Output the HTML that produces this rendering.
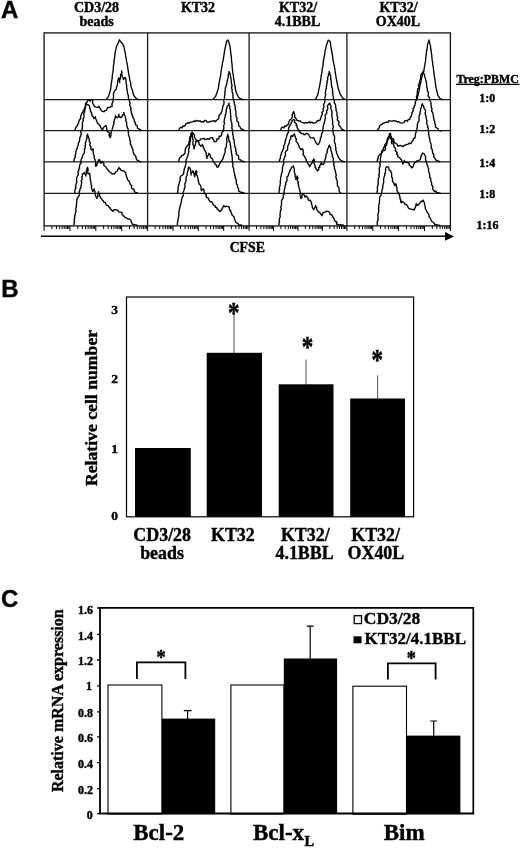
<!DOCTYPE html>
<html><head><meta charset="utf-8"><title>Figure</title>
<style>
html,body{margin:0;padding:0;background:#fff;}
svg{display:block;}
text{font-family:"Liberation Serif","DejaVu Serif",serif;font-weight:bold;fill:#000;stroke:#000;stroke-width:0.4px;}
.sans{font-family:"Liberation Sans","DejaVu Sans",sans-serif;font-weight:bold;}
.h{font-size:14px;text-anchor:middle;}
.r{font-size:12px;text-anchor:middle;}
.ln{stroke:#000;stroke-width:1;fill:none;}
.cv{stroke:#000;stroke-width:1.35;fill:none;stroke-linejoin:round;}
</style></head>
<body>
<svg width="520" height="849" viewBox="0 0 520 849">
<rect width="520" height="849" fill="#fff"/>

<!-- ===== Panel A ===== -->
<g id="panelA">
<text class="sans" x="1" y="17.5" font-size="24">A</text>
<text class="h" x="96.5" y="12">CD3/28</text>
<text class="h" x="96.5" y="26">beads</text>
<text class="h" x="198" y="12">KT32</text>
<text class="h" x="298" y="12">KT32/</text>
<text class="h" x="297.5" y="26">4.1BBL</text>
<text class="h" x="398.5" y="12">KT32/</text>
<text class="h" x="398" y="26">OX40L</text>
<!-- frame -->
<rect class="ln" style="stroke-width:1.35;stroke:#1a1a1a" x="44.1" y="32.9" width="406.3" height="193"/>
<path class="ln" style="stroke-width:1.3;stroke:#1a1a1a" d="M147.6 33V226M249.1 33V226M346.9 33V226"/>
<path class="ln" style="stroke-width:1.3;stroke:#1a1a1a" d="M44 99.6H450M44 130.7H450M44 161.9H450M44 193.3H450"/>
<!--CURVES-->
<path class="cv" d="M105.9 99.7L106.7 98.6L107.6 97.6L108.5 96.6L108.7 95.4L109.3 94.2L109.6 93.0L109.9 91.8L110.2 90.6L110.5 89.3L110.8 88.0L110.8 86.7L111.1 85.4L111.1 84.1L111.5 82.8L111.7 81.5L111.8 80.2L112.1 78.9L112.2 77.6L112.2 76.3L112.4 75.0L112.5 73.7L112.9 72.4L113.0 71.1L113.2 69.8L113.3 68.5L113.3 67.2L113.4 65.9L113.7 64.6L114.0 63.3L114.0 61.9L114.1 60.6L114.3 59.2L114.5 57.9L114.8 56.5L114.8 55.2L115.0 53.8L115.2 52.5L115.5 51.3L115.6 50.1L116.0 48.9L116.3 47.7L116.4 46.5L117.0 45.3L117.6 44.1L118.5 42.5L118.9 41.1L119.5 39.8L120.1 40.9L120.8 42.0L122.1 43.2L122.8 44.0L123.1 45.0L123.9 46.6L124.2 47.8L124.5 49.1L124.6 50.4L125.0 51.7L125.2 52.9L125.5 54.2L125.5 55.5L125.8 56.8L126.2 58.1L126.4 59.4L126.4 60.7L126.7 62.0L127.1 63.3L127.2 64.6L127.5 65.9L127.8 67.3L127.8 68.7L128.1 70.0L128.4 71.3L128.4 72.7L128.8 74.0L129.0 75.3L129.3 76.7L129.5 78.0L129.6 79.3L130.0 80.6L130.4 81.9L130.7 83.2L130.8 84.5L130.9 85.8L131.3 87.1L131.7 88.4L132.2 89.6L132.6 91.0L132.7 92.3L133.3 93.6L133.6 94.9L134.1 96.0L134.8 96.8L135.6 97.7L136.2 98.7L137.3 99.1L138.4 99.4L139.6 99.7"/>
<path class="cv" d="M74.7 130.7L75.1 129.5L75.6 128.3L76.1 127.0L77.0 126.0L77.8 125.0L78.0 123.6L78.8 122.5L78.9 121.2L79.4 120.0L80.3 119.0L80.9 117.9L80.5 116.4L81.2 115.3L81.5 114.1L82.1 113.0L83.1 112.0L83.2 110.7L84.1 109.6L84.6 108.3L85.2 107.1L85.3 105.7L85.6 104.3L85.9 102.9L87.1 101.9L87.7 100.3L89.1 100.4L90.3 101.2L90.6 99.8L92.2 99.4L92.9 100.6L92.5 102.2L92.8 103.6L93.7 104.7L94.2 105.9L95.1 106.7L96.3 107.2L97.8 107.4L99.0 106.3L99.4 107.6L100.2 108.6L100.9 109.7L101.5 110.8L102.7 111.5L104.2 111.7L104.8 110.6L106.4 110.4L106.8 109.2L107.6 107.6L109.4 107.5L110.6 106.8L112.1 106.4L112.1 105.2L111.9 103.9L112.7 102.7L112.9 101.5L113.2 100.3L113.0 99.0L113.5 97.7L113.5 96.4L113.5 95.1L113.4 93.7L113.9 92.5L114.4 91.2L115.0 90.3L115.9 89.6L116.5 88.6L116.4 87.3L117.0 86.0L117.4 84.8L117.5 83.4L117.8 82.2L117.6 80.8L118.4 79.4L118.6 77.8L119.3 78.9L119.5 80.1L119.6 81.4L119.8 82.6L119.5 81.1L119.9 79.8L120.4 78.5L120.5 77.1L120.6 75.7L120.6 74.4L121.6 73.4L121.8 72.2L121.5 70.9L122.0 72.3L121.7 73.7L121.9 75.1L122.3 76.5L123.1 77.9L123.5 79.6L124.1 78.3L125.1 77.4L125.8 78.8L126.0 80.2L126.0 81.7L126.2 83.1L126.3 84.5L126.8 85.8L126.5 87.2L127.0 88.6L126.9 89.8L127.4 91.0L127.3 92.3L127.7 93.4L127.9 94.6L128.6 96.0L128.2 97.7L129.0 99.0L129.1 100.4L129.6 101.7L130.2 103.1L129.6 104.6L130.0 105.9L130.6 107.2L131.1 108.5L130.7 110.0L131.2 111.2L131.2 112.6L132.1 113.8L131.9 115.2L133.0 116.3L132.8 117.8L133.7 118.7L134.3 119.8L134.2 121.2L135.2 122.2L135.3 123.5L135.5 124.8L137.0 125.4L137.3 126.6L137.4 128.1L138.6 128.6L139.8 129.3L140.8 130.1L142.0 130.7"/>
<path class="cv" d="M73.8 161.8L74.0 160.6L74.2 159.3L74.6 158.1L75.5 157.0L74.9 155.6L75.6 154.5L75.9 153.2L75.8 151.9L76.2 150.7L76.5 149.5L77.3 148.4L77.4 147.1L77.9 146.0L78.3 144.7L78.2 143.3L79.2 142.3L79.2 141.0L79.7 139.8L79.8 138.5L79.9 137.2L80.8 136.1L80.9 134.8L81.3 133.5L80.8 132.1L80.9 130.8L82.0 129.7L82.3 128.5L82.3 127.2L82.3 125.9L82.5 124.6L82.3 123.2L82.6 122.0L83.4 120.7L82.9 119.3L83.5 118.1L84.0 116.8L84.1 115.5L83.8 114.1L84.0 112.8L84.7 111.6L84.6 110.2L85.2 109.0L85.3 107.8L85.7 106.6L85.6 105.4L85.9 104.2L86.1 103.3L87.0 104.5L88.4 104.8L89.2 105.7L89.7 106.8L89.5 108.1L90.2 109.0L90.5 110.2L90.5 111.4L91.6 112.4L91.4 113.7L92.1 114.7L92.0 116.0L93.4 116.9L93.6 118.5L94.8 117.9L95.5 116.8L95.3 118.3L96.1 119.5L96.6 120.8L97.1 122.1L97.5 123.4L98.7 123.9L99.2 125.1L100.3 125.9L100.6 127.2L101.5 128.6L102.6 129.9L103.0 128.4L103.9 127.0L104.9 126.3L105.9 125.5L106.3 126.7L106.6 127.9L106.7 129.1L107.1 130.2L107.1 131.6L109.0 132.4L109.7 133.6L109.0 135.1L109.6 136.4L110.2 137.6L110.8 136.3L111.0 134.9L110.8 133.4L111.3 132.0L111.9 130.7L112.3 129.5L112.4 128.2L112.9 127.0L113.1 125.7L113.6 124.6L114.1 123.4L113.7 122.1L114.3 120.9L114.3 119.6L115.2 118.5L115.2 117.2L115.6 115.8L116.2 116.9L117.3 117.8L118.1 116.8L118.7 115.6L119.0 114.1L118.9 115.6L119.4 116.9L120.5 117.6L122.1 116.7L122.3 115.2L123.7 114.1L123.8 112.5L124.1 113.8L124.4 115.1L125.3 116.3L125.4 117.7L125.9 118.9L125.8 120.2L126.0 121.4L126.6 122.6L126.7 123.8L126.6 125.2L127.2 126.3L127.3 127.6L128.2 128.8L128.0 130.2L128.3 131.5L128.4 132.8L128.5 134.1L128.6 135.5L129.2 136.7L129.6 137.9L129.8 139.2L129.8 140.5L130.7 141.6L130.3 143.0L130.3 144.2L131.1 145.4L131.8 146.6L131.9 148.0L132.8 149.1L133.1 150.5L132.9 152.0L133.7 153.2L134.0 154.6L135.4 155.5L136.0 156.9L136.1 158.5L136.8 159.5L137.4 160.6L138.8 160.8L139.9 161.7L141.3 161.8"/>
<path class="cv" d="M74.7 193.3L74.9 192.0L74.9 190.6L75.0 189.3L76.0 188.0L75.4 186.6L76.1 185.3L76.0 184.0L76.8 182.7L76.7 181.4L76.5 180.0L76.6 178.6L76.9 177.3L77.5 176.0L78.2 174.8L78.2 173.5L77.9 172.0L78.8 170.9L78.7 169.4L79.6 168.3L79.3 166.8L79.7 165.6L79.9 164.2L81.1 163.3L80.7 161.8L81.0 160.5L81.3 159.3L81.9 158.1L82.5 156.9L82.5 155.5L83.4 154.4L84.2 153.2L84.4 151.9L84.6 150.6L84.4 149.2L85.2 148.0L85.3 146.8L85.0 145.5L85.7 144.4L85.2 143.1L85.7 141.9L86.2 140.7L86.5 139.4L87.1 138.1L86.7 136.6L87.1 135.3L87.6 134.1L87.7 135.4L88.4 136.5L88.6 137.8L89.2 138.9L89.2 140.2L89.4 141.6L90.4 142.8L89.7 144.4L90.0 145.7L91.1 146.9L90.7 148.4L91.4 150.0L93.0 148.8L93.3 150.0L92.9 151.3L93.4 152.5L93.4 153.8L93.7 155.0L94.4 156.2L94.2 157.5L94.4 158.7L95.2 159.9L95.3 161.2L95.6 162.5L95.8 163.8L95.4 165.2L95.8 166.3L96.9 165.4L96.9 164.1L97.8 163.1L97.5 161.6L98.5 160.7L98.9 159.5L100.1 160.4L100.0 161.9L101.0 163.3L101.4 161.8L102.5 161.3L102.9 162.6L104.0 163.7L103.7 165.3L104.9 166.2L106.0 167.0L106.6 168.3L107.5 169.4L108.4 170.5L109.3 171.7L110.6 172.5L111.9 173.8L113.2 173.7L114.7 173.7L115.6 172.2L117.0 171.5L117.5 170.5L117.6 169.3L119.0 168.6L118.9 167.2L119.1 168.5L120.4 168.9L120.8 170.1L121.8 170.3L122.7 170.8L123.9 170.9L124.7 171.7L125.7 172.8L125.9 174.1L126.3 175.4L126.5 176.9L127.3 178.1L127.4 179.7L128.7 180.6L129.3 181.9L130.0 183.2L130.3 184.7L131.7 185.6L131.5 187.4L132.0 188.6L133.7 189.0L134.2 190.1L134.3 191.7L135.5 192.3L136.8 192.6L137.9 193.3"/>
<path class="cv" d="M73.8 225.3L74.1 224.0L74.1 222.7L74.6 221.4L74.2 220.1L74.4 218.8L74.7 217.5L74.6 216.1L75.2 214.9L75.3 213.6L75.6 212.3L76.1 211.1L75.6 209.7L75.8 208.5L76.2 207.3L76.5 206.0L76.2 204.7L76.7 203.5L76.6 202.2L76.8 201.0L76.9 199.7L77.2 198.4L77.9 197.3L78.8 196.3L79.1 195.0L79.7 193.8L79.0 192.4L79.3 191.2L80.0 190.0L80.0 188.7L81.1 187.6L80.8 186.3L81.4 185.0L81.5 183.7L81.7 182.3L81.1 180.9L82.1 179.6L82.2 178.3L81.7 176.8L82.6 175.6L82.2 173.9L83.7 173.7L84.1 172.5L84.6 173.7L85.7 174.6L85.8 176.0L85.8 174.8L86.5 173.6L86.0 172.2L86.4 171.0L86.7 169.8L87.0 168.5L87.4 167.3L88.0 168.6L88.1 170.0L87.8 171.5L87.8 172.9L88.4 173.9L89.7 173.4L89.9 174.7L90.0 175.9L90.1 177.2L90.2 178.4L90.2 179.7L90.6 180.9L90.9 182.1L91.0 183.4L91.1 184.6L91.9 185.9L91.2 187.5L91.9 188.8L92.2 190.1L92.7 191.6L93.6 190.4L94.2 188.9L94.3 190.3L95.0 191.6L95.2 193.0L95.4 194.5L95.5 195.9L96.2 197.2L97.0 198.5L97.0 197.3L98.0 196.3L97.8 195.0L97.8 193.7L98.3 192.6L98.7 191.6L98.7 192.8L99.7 193.8L99.4 195.1L99.6 196.3L100.6 197.3L101.0 198.2L101.8 199.1L102.4 200.2L103.4 201.0L103.8 202.4L105.5 202.4L105.6 203.9L106.4 205.1L108.0 205.7L108.8 206.8L109.9 207.4L110.3 208.8L111.2 209.6L112.0 210.5L112.8 211.4L113.7 209.9L115.4 209.7L116.8 209.8L118.0 210.6L118.9 212.0L120.8 212.1L122.0 212.7L121.9 214.4L123.0 215.2L124.0 216.2L125.0 217.3L126.4 217.8L127.6 218.9L129.4 219.0L130.6 220.0L131.2 221.4L131.8 222.7L132.1 224.1L133.4 224.3L134.4 224.6L135.6 224.8L136.7 225.2L137.9 225.3"/>
<path class="cv" d="M212.8 99.7L213.6 98.6L214.5 97.6L215.4 96.6L215.9 95.5L216.4 94.4L216.7 93.2L217.2 92.0L217.5 90.8L218.0 89.7L218.3 88.4L218.6 87.0L218.6 85.6L218.9 84.3L219.1 82.9L219.4 81.5L219.7 80.2L219.8 78.9L220.2 77.6L220.4 76.3L220.7 75.0L220.8 73.7L221.0 72.4L221.1 71.1L221.4 69.8L221.6 68.5L221.8 67.2L222.1 65.9L222.2 64.6L222.4 63.3L222.6 62.0L223.1 60.7L223.3 59.4L223.4 58.1L223.7 56.8L223.9 55.5L224.0 54.2L224.4 52.9L224.4 51.6L224.7 50.3L224.9 49.0L225.2 47.7L225.5 46.4L225.8 45.1L226.1 43.8L226.3 42.5L226.7 41.3L227.8 40.0L228.4 40.9L228.7 42.0L229.2 43.0L229.3 44.2L229.7 45.4L230.1 46.6L230.1 47.8L230.4 49.0L230.4 50.3L230.7 51.6L230.7 52.9L230.9 54.2L231.1 55.5L231.4 56.8L231.4 58.1L231.5 59.4L231.6 60.7L231.7 62.1L231.9 63.4L232.1 64.8L232.1 66.1L232.2 67.5L232.4 68.8L232.5 70.2L232.7 71.5L232.8 72.9L233.1 74.2L233.4 75.6L233.5 76.9L233.7 78.3L233.8 79.6L234.2 81.0L234.3 82.3L234.4 83.7L234.7 84.9L235.1 86.1L235.3 87.4L235.3 88.6L235.6 89.9L235.9 91.1L236.2 92.3L236.7 93.6L237.4 94.9L238.1 96.2L238.7 97.5L240.0 98.4L241.3 99.2L242.6 99.4L243.9 99.7"/>
<path class="cv" d="M178.2 130.7L179.0 129.5L179.7 128.2L180.8 127.2L182.2 127.9L182.9 125.9L184.2 126.3L185.1 125.5L185.6 124.2L186.7 123.6L187.8 122.8L189.4 123.0L190.3 122.1L191.5 122.2L192.7 121.9L193.6 121.0L195.2 121.5L196.3 120.4L197.5 121.0L198.9 121.0L200.1 120.8L201.2 122.1L202.4 121.5L203.7 122.0L204.7 120.4L206.0 120.4L206.8 121.9L208.0 122.3L209.3 121.8L210.5 121.5L211.6 121.5L212.8 120.8L213.9 120.6L215.1 121.8L215.9 121.0L217.0 120.0L218.2 119.1L218.9 117.7L218.8 116.1L219.6 114.8L220.8 113.8L221.3 112.5L222.0 111.2L222.1 109.7L222.6 108.4L222.6 106.9L223.1 105.6L223.8 104.4L223.9 103.2L224.1 101.9L223.7 100.6L223.9 99.4L224.5 98.2L224.5 96.9L224.6 95.7L225.1 94.5L224.6 93.2L225.1 92.0L225.0 90.7L225.5 89.6L225.2 88.3L225.7 87.1L226.2 85.9L226.3 84.7L227.0 83.5L227.0 82.2L227.2 81.0L227.5 79.8L227.7 78.6L228.2 77.4L228.3 76.2L228.1 75.0L228.7 73.9L229.0 72.7L229.0 71.5L229.7 72.8L230.2 74.0L230.3 75.4L230.6 76.7L230.9 78.0L231.1 79.3L231.1 80.6L231.4 81.9L231.3 83.2L231.8 84.5L232.1 85.8L231.6 87.1L231.7 88.4L232.2 89.7L232.0 91.1L232.3 92.4L232.9 93.7L233.0 95.0L232.9 96.4L233.0 97.7L233.3 99.0L233.6 100.2L234.0 101.4L234.4 102.7L234.2 104.0L235.0 105.2L234.9 106.5L235.5 107.7L235.2 109.0L235.5 110.3L236.1 111.5L235.9 112.9L235.9 114.2L236.0 115.6L236.2 116.9L237.1 118.1L236.8 119.5L236.8 120.8L237.9 121.8L238.5 122.9L238.8 124.1L238.5 125.7L239.8 126.5L240.4 127.8L241.3 129.0L242.6 129.3L243.6 130.1L244.8 130.7"/>
<path class="cv" d="M178.2 161.8L178.9 160.5L179.2 159.1L179.8 157.7L181.0 156.9L181.6 155.3L183.3 155.2L184.2 154.0L185.1 152.9L185.2 151.6L185.1 150.3L185.3 149.0L185.9 147.8L186.8 146.8L187.0 145.8L187.9 145.4L188.4 144.5L189.1 143.3L188.9 141.8L189.8 140.7L189.5 139.2L189.7 137.9L190.1 136.6L191.2 135.8L190.8 134.4L191.1 133.3L192.2 132.2L193.1 133.0L193.7 134.1L194.5 135.0L194.4 136.4L194.4 137.6L195.3 138.6L196.1 140.0L197.1 140.8L198.6 140.9L199.8 140.3L200.8 138.8L202.3 138.8L203.9 138.3L205.1 139.5L206.4 139.3L207.6 138.7L208.9 139.4L210.1 138.2L211.4 137.7L212.7 137.6L212.9 138.8L213.6 139.8L213.9 140.9L214.4 141.8L216.0 141.6L217.0 140.3L216.8 138.8L218.7 138.9L219.0 137.8L219.1 136.2L220.9 136.2L221.6 135.1L221.6 133.6L222.1 132.3L223.2 131.3L223.3 129.8L223.8 128.5L223.8 127.1L223.6 125.7L224.2 124.5L224.6 123.1L223.9 121.7L224.3 120.4L224.4 119.0L224.8 117.7L225.5 116.5L225.0 115.1L226.0 114.0L225.8 112.7L226.4 111.5L226.0 110.2L226.6 109.0L227.0 107.8L227.0 106.4L228.1 105.4L229.0 104.4L229.0 103.0L228.8 104.3L229.1 105.4L229.9 106.6L229.5 107.9L230.2 109.0L230.4 110.3L230.3 111.7L230.5 113.1L230.6 114.4L230.7 115.8L230.9 117.1L230.7 118.5L231.0 119.9L231.1 121.2L231.7 122.5L231.9 123.9L231.8 125.2L232.2 126.5L231.6 128.0L232.4 129.2L232.1 130.6L232.7 131.9L232.6 133.3L232.9 134.6L233.2 135.9L233.5 137.2L233.1 138.6L234.1 139.7L234.1 141.1L234.3 142.4L234.3 143.7L234.7 144.9L234.5 146.2L235.3 147.4L235.7 148.6L235.8 149.8L235.7 151.1L236.5 152.2L236.1 153.8L236.7 154.9L238.3 155.7L238.7 157.0L238.5 158.6L239.3 159.5L240.7 159.9L241.3 160.9L242.5 161.2L243.6 161.5L244.8 161.8"/>
<path class="cv" d="M177.3 193.3L177.7 192.1L177.7 190.8L178.3 189.6L178.0 188.3L178.1 187.0L178.6 185.8L178.8 184.6L179.2 183.4L179.4 182.1L179.9 180.9L180.4 179.8L179.9 178.4L180.3 177.2L180.8 176.0L182.2 175.3L183.3 174.2L183.8 172.8L183.8 171.4L184.2 170.0L184.4 168.6L185.0 167.3L185.3 166.0L185.8 164.7L186.0 163.4L186.2 162.2L185.8 160.7L186.2 159.5L187.0 158.3L187.1 157.0L187.9 155.8L187.9 154.5L188.6 153.3L188.7 152.0L188.9 150.7L188.3 149.2L189.3 148.1L189.4 146.7L189.2 145.4L189.9 144.1L189.4 142.7L190.4 141.6L190.4 140.2L190.6 138.9L190.3 137.5L191.3 136.4L191.2 135.0L191.8 133.3L192.4 134.5L192.3 135.7L192.4 137.0L192.5 138.2L193.0 139.4L193.2 140.6L193.0 141.9L192.9 143.3L192.9 144.7L194.1 146.0L193.7 147.4L194.1 148.8L194.5 147.4L194.8 146.1L195.2 144.7L195.6 143.4L195.6 142.0L196.3 141.0L197.2 140.2L197.9 141.6L199.1 142.7L198.9 144.3L200.0 145.1L200.7 146.2L202.1 145.9L202.3 144.5L203.0 145.7L203.1 147.1L204.0 148.3L204.2 149.6L205.2 150.9L205.9 152.3L206.2 153.5L206.1 154.8L206.8 155.9L206.4 157.3L207.0 158.4L207.0 156.9L207.7 155.7L208.9 154.7L208.5 153.4L209.9 154.3L210.3 155.9L210.5 157.4L211.8 158.3L212.8 159.4L212.9 160.9L213.7 162.1L214.8 163.1L215.2 164.6L216.7 164.8L216.5 166.8L218.2 167.1L218.5 165.7L219.4 164.9L219.7 163.4L220.8 162.3L221.3 160.9L222.3 159.7L223.2 158.4L223.2 156.9L224.0 155.7L224.3 154.3L224.9 153.0L225.4 151.7L225.0 150.3L225.1 149.0L226.0 147.7L226.4 146.4L226.4 145.1L226.5 143.7L226.9 142.4L227.0 141.0L226.5 139.5L226.8 138.2L227.2 136.8L227.6 135.5L227.6 134.1L227.9 135.3L228.6 136.5L228.6 137.7L228.6 139.0L229.0 140.1L229.0 141.4L230.0 141.9L230.2 143.3L230.3 144.7L230.6 146.0L230.8 147.4L230.9 148.8L231.1 150.1L231.3 151.4L231.5 152.7L231.6 154.0L232.0 155.3L232.0 156.6L232.4 157.9L232.2 159.2L232.3 160.5L232.3 161.8L232.8 163.1L233.0 164.4L232.7 165.7L233.0 167.0L233.6 168.3L233.8 169.6L233.9 170.9L234.2 172.3L234.5 173.6L234.7 175.0L235.1 176.3L235.2 177.7L235.8 179.0L236.4 180.3L236.3 181.9L236.3 183.3L237.0 184.6L237.6 185.8L237.4 187.3L238.6 188.4L238.5 190.0L239.0 191.3L240.1 191.8L241.3 192.5L242.6 192.3L243.6 193.0L244.8 193.3"/>
<path class="cv" d="M177.3 225.3L177.4 224.0L177.4 222.8L178.0 221.5L177.8 220.2L178.0 219.0L178.5 217.8L178.6 216.5L178.9 215.3L178.9 214.0L178.8 212.6L179.2 211.4L179.2 210.1L179.6 208.8L179.9 207.5L180.1 206.2L180.4 205.0L181.0 203.7L181.1 202.4L181.5 201.1L181.5 199.7L181.9 198.5L182.3 197.2L183.2 196.0L183.2 194.6L183.2 193.3L183.2 192.0L183.8 190.8L184.2 189.6L184.4 188.3L185.1 187.2L184.9 185.9L184.9 184.6L184.9 183.3L185.6 182.1L186.0 181.0L186.1 179.7L185.9 178.4L186.1 177.1L186.7 176.0L187.2 174.8L187.2 173.5L187.4 172.2L187.9 171.0L188.4 169.9L188.1 168.5L188.8 167.0L189.9 168.2L190.4 169.5L190.9 170.9L190.7 172.3L191.1 173.7L191.1 175.1L191.0 173.8L191.5 172.7L192.9 172.1L192.8 170.8L193.5 171.9L193.8 173.1L194.0 174.4L194.5 175.5L194.7 176.8L194.8 175.6L195.2 174.4L195.4 173.1L195.4 171.8L196.4 170.8L196.9 172.0L196.4 173.5L196.5 174.8L197.4 176.0L197.6 177.3L197.9 178.6L198.3 179.8L198.1 181.2L198.9 182.4L198.8 183.7L200.1 184.8L200.9 186.3L201.0 187.8L201.1 189.3L201.5 190.7L202.2 189.6L203.3 188.9L204.1 190.1L204.0 191.6L204.2 192.9L205.3 193.9L206.4 194.9L206.1 196.9L207.4 197.7L208.6 198.4L208.8 199.8L209.7 200.7L210.2 201.9L211.7 201.8L212.6 202.9L213.0 204.1L213.6 205.2L215.2 205.8L215.2 207.3L216.8 207.4L217.0 208.9L218.1 209.6L218.8 210.6L220.0 211.6L221.0 210.6L221.8 209.4L222.5 208.1L223.2 206.7L223.9 205.6L225.0 206.8L226.6 206.2L227.9 206.6L229.3 207.1L229.4 208.5L229.5 209.9L230.8 210.9L231.0 212.3L231.7 213.4L231.8 214.8L232.8 215.7L234.1 216.7L234.2 218.5L234.8 219.5L235.3 220.6L235.5 221.7L236.2 222.7L237.2 223.2L238.1 223.8L238.7 224.5L239.8 225.2L241.1 224.9L242.2 225.3"/>
<path class="cv" d="M315.4 99.7L315.9 98.5L316.4 97.4L316.9 96.3L317.7 95.2L317.9 94.0L318.3 92.8L318.5 91.5L318.6 90.3L318.9 89.1L319.2 87.8L319.5 86.6L319.7 85.4L320.0 84.1L320.2 82.8L320.3 81.5L320.7 80.2L320.8 78.9L321.0 77.6L321.1 76.3L321.4 75.0L321.7 73.7L321.9 72.3L322.1 71.0L322.1 69.6L322.3 68.3L322.7 67.0L323.0 65.6L323.1 64.3L323.2 62.9L323.4 61.6L323.5 60.3L323.7 59.0L324.1 57.7L324.1 56.4L324.5 55.1L324.8 53.8L324.9 52.5L325.0 51.2L325.3 49.9L325.8 48.6L325.9 47.3L326.4 46.0L326.6 44.7L327.1 43.5L327.4 42.3L327.9 41.1L328.3 40.1L329.1 40.8L330.0 41.2L330.3 42.5L330.6 43.8L330.6 45.1L330.8 46.4L331.1 47.7L331.2 49.0L331.6 50.2L331.7 51.5L332.0 52.7L332.1 54.0L332.4 55.2L332.6 56.4L332.7 57.7L332.9 58.9L333.0 60.2L333.4 61.4L333.6 62.6L333.8 63.9L334.0 65.1L334.4 66.3L334.5 67.7L334.9 69.0L335.0 70.4L335.2 71.7L335.3 73.1L335.6 74.4L335.9 75.8L336.0 77.1L336.2 78.5L336.5 79.7L336.8 80.9L336.9 82.2L337.3 83.4L337.4 84.6L337.8 85.9L338.0 87.1L338.2 88.5L338.7 89.7L339.2 91.0L339.5 92.3L340.0 93.6L340.6 94.8L341.5 96.0L342.2 97.2L343.1 98.4L344.4 99.0L345.7 99.7"/>
<path class="cv" d="M279.9 130.7L280.8 129.6L281.3 128.1L282.4 127.0L283.9 127.9L284.7 126.0L286.1 126.4L286.8 125.1L288.3 124.5L288.7 123.0L289.0 121.7L289.5 120.5L290.3 119.5L291.4 118.7L292.2 117.5L292.4 116.1L292.1 114.6L293.0 113.5L293.0 112.4L293.6 111.6L294.2 113.0L294.6 114.5L294.8 115.9L294.5 117.3L295.8 118.0L296.3 119.0L296.4 120.0L297.7 120.4L298.9 121.1L300.2 120.8L301.2 122.0L302.3 122.5L303.4 123.0L304.6 123.0L305.8 122.6L307.1 122.9L308.2 122.5L309.4 121.7L310.3 123.0L311.8 122.0L312.9 123.1L314.0 123.0L315.2 122.7L316.4 122.3L317.1 120.9L318.4 120.5L319.8 120.3L320.4 119.4L320.6 118.2L321.1 117.1L321.3 116.0L322.1 114.9L322.3 113.7L321.8 112.4L323.1 111.5L323.3 110.3L323.0 109.0L323.7 107.8L324.0 106.5L323.6 105.1L323.9 103.8L324.7 102.6L324.7 101.3L325.1 100.1L325.0 98.7L324.9 97.3L325.4 96.1L325.8 94.8L325.2 93.3L325.6 92.0L325.6 90.7L325.8 89.4L326.6 88.1L326.1 86.7L326.8 85.4L326.7 84.1L327.3 82.8L326.9 81.4L327.6 80.2L327.7 78.9L327.5 77.5L328.2 76.3L328.6 75.1L328.4 73.8L329.3 72.8L329.1 71.5L329.8 72.7L329.5 74.2L330.6 75.3L330.7 76.7L330.6 78.0L330.9 79.2L331.1 80.4L331.2 81.7L331.4 82.9L331.3 84.2L331.7 85.4L331.5 86.7L332.3 87.9L332.5 89.1L332.4 90.4L332.9 91.7L332.3 93.0L333.1 94.2L332.8 95.5L333.4 96.7L333.3 98.0L333.7 99.2L334.1 100.4L334.5 101.6L334.2 102.9L335.2 104.0L335.5 105.2L335.8 106.5L335.6 107.8L336.2 109.0L336.0 110.4L336.7 111.7L337.0 113.1L337.0 114.5L337.0 115.9L337.8 117.2L337.3 118.7L337.4 120.1L338.8 121.2L339.0 122.6L338.6 124.2L339.2 125.6L340.2 126.5L340.9 127.6L341.3 128.9L342.5 129.4L343.6 130.2L344.8 130.7"/>
<path class="cv" d="M279.0 161.8L279.6 160.5L279.8 159.2L280.6 158.0L280.4 156.5L280.7 155.2L281.5 154.0L281.4 152.6L282.3 151.5L282.6 150.3L283.2 149.1L283.9 148.0L283.4 146.5L284.1 145.4L284.6 144.2L285.1 143.0L285.0 141.6L285.7 140.4L285.7 139.1L286.2 137.9L286.6 136.7L286.9 135.3L287.5 133.9L288.2 132.6L288.5 131.3L288.8 129.9L288.5 128.3L289.0 127.0L289.9 125.9L290.2 124.5L291.3 123.8L291.2 122.5L292.1 121.6L292.1 120.6L293.5 119.5L294.9 120.3L294.4 122.0L295.4 123.0L296.5 123.8L296.0 125.2L297.3 125.9L297.0 127.3L297.6 128.4L298.2 129.6L299.1 130.5L299.3 132.0L300.6 132.4L301.3 133.6L303.2 133.6L304.1 134.9L305.4 134.1L306.7 133.3L308.1 134.0L309.0 135.1L309.4 136.4L310.4 137.7L311.7 137.9L313.7 137.7L314.4 139.3L315.0 140.5L315.5 141.7L316.1 142.9L316.8 143.9L318.2 144.6L319.0 143.3L319.7 141.9L320.1 140.5L320.5 139.2L320.3 137.7L321.6 136.5L321.4 135.0L321.8 133.6L322.6 132.4L322.7 130.9L322.7 129.4L323.2 128.1L323.1 126.8L323.4 125.6L323.8 124.3L324.2 123.1L324.4 121.9L324.9 120.7L324.8 119.4L325.6 118.3L325.3 116.9L325.2 115.6L325.6 114.4L326.6 113.4L326.8 112.1L326.5 110.8L327.4 109.7L327.9 108.5L327.5 107.1L327.5 105.8L328.3 104.6L329.0 103.8L329.8 103.0L329.8 104.5L331.0 105.7L330.8 107.3L330.9 108.7L331.5 110.0L331.9 111.3L332.0 112.6L331.7 114.0L332.0 115.4L332.0 116.7L332.2 118.1L332.5 119.4L332.5 120.7L332.7 121.9L332.7 123.2L332.5 124.5L333.1 125.7L333.4 126.9L332.8 128.3L332.8 129.5L333.1 130.8L333.1 132.1L333.4 133.3L333.5 134.7L334.4 135.9L334.6 137.3L334.5 138.7L334.5 140.0L334.3 141.4L334.8 142.7L335.4 144.0L335.4 145.4L335.4 146.6L336.0 147.8L335.6 149.2L336.1 150.4L336.4 151.6L336.5 152.8L337.0 154.0L337.6 155.3L338.1 156.7L338.9 157.9L339.6 159.2L340.5 159.9L341.3 160.7L342.2 161.2L343.5 161.5L344.8 161.8"/>
<path class="cv" d="M279.0 193.3L279.1 192.0L279.1 190.7L279.6 189.5L279.4 188.2L279.5 186.9L280.0 185.7L280.1 184.4L280.4 183.2L280.2 181.9L280.3 180.6L280.7 179.4L280.5 178.0L281.0 176.8L281.2 175.5L281.4 174.2L281.7 172.9L282.4 171.7L282.3 170.3L282.5 169.0L282.4 167.7L282.8 166.4L283.0 165.1L283.8 163.9L283.7 162.6L283.4 161.2L283.5 159.9L284.2 158.7L284.6 157.6L284.8 156.4L285.6 155.3L285.4 154.0L285.2 152.7L285.8 151.6L286.5 150.7L287.4 149.9L287.7 148.8L287.6 147.3L287.9 145.9L288.5 144.6L289.2 143.3L289.3 141.9L289.6 140.6L290.2 139.5L290.9 138.4L290.6 137.0L291.4 135.5L292.7 136.6L293.2 135.2L294.5 134.0L294.7 135.2L295.1 136.2L295.4 137.3L295.8 138.4L296.5 139.4L295.9 140.8L296.6 141.8L297.3 142.7L298.0 143.8L298.5 145.0L299.0 146.1L299.2 147.5L300.3 148.4L300.7 149.7L302.5 148.8L303.1 149.9L303.1 151.2L303.5 152.4L303.0 153.8L303.3 155.0L304.3 156.0L304.9 157.1L305.5 158.3L306.2 159.4L306.2 160.8L307.2 161.7L307.5 163.1L308.5 164.2L309.4 165.3L309.3 166.8L310.3 165.8L310.9 164.4L311.8 163.3L312.4 162.2L312.4 161.0L313.4 160.2L313.6 159.0L314.4 160.2L314.5 161.5L313.9 163.0L314.3 164.2L315.1 165.4L315.0 166.8L315.7 167.8L316.0 168.9L316.9 169.8L317.3 171.1L318.2 170.3L318.9 169.3L318.6 167.7L319.9 167.1L319.6 165.7L320.6 164.8L320.8 163.6L321.4 162.5L321.7 164.0L323.4 164.6L324.0 163.3L324.5 162.0L324.6 160.6L325.2 159.4L325.6 158.1L325.7 156.8L326.0 155.6L326.0 154.4L326.8 153.3L327.4 152.2L326.9 150.8L327.5 149.7L327.8 148.6L328.6 147.7L328.6 146.4L329.5 145.2L329.5 146.6L330.6 147.1L330.8 148.5L330.8 149.9L331.3 151.2L331.7 152.6L331.9 154.0L332.6 155.1L332.1 156.6L333.1 157.7L333.4 158.9L333.2 160.3L333.5 161.5L334.1 162.8L333.5 164.2L334.0 165.4L334.5 166.7L334.2 168.1L334.7 169.3L335.4 170.4L335.3 171.7L335.7 172.9L335.9 174.1L336.3 175.2L335.8 176.5L336.1 177.7L336.4 179.1L337.0 180.4L337.3 181.8L337.3 183.2L337.5 184.6L337.4 186.1L338.7 187.2L339.1 188.6L339.1 190.1L339.3 191.5L340.2 192.5L341.3 193.3"/>
<path class="cv" d="M279.0 225.3L279.1 224.0L279.1 222.8L279.5 221.5L279.2 220.2L279.5 219.0L279.7 217.7L280.3 216.5L279.9 215.2L280.2 214.0L280.2 212.6L280.4 211.3L280.8 210.0L281.3 208.7L280.7 207.2L281.3 205.9L281.6 204.6L281.4 203.2L281.6 201.9L281.5 200.4L282.4 199.3L283.1 198.1L283.5 196.7L283.2 195.4L284.2 194.3L284.2 193.0L284.0 191.7L284.3 190.5L284.4 189.2L285.0 188.1L285.0 186.8L285.2 185.5L286.0 184.4L285.6 183.0L286.2 181.9L287.1 180.7L287.0 179.4L286.9 178.1L287.0 176.8L288.2 175.9L288.6 174.7L288.6 173.4L289.5 172.4L289.7 171.0L290.4 170.0L291.1 168.6L291.7 167.1L292.9 166.7L293.4 165.6L293.6 167.0L294.1 168.3L294.4 169.7L294.2 171.2L294.5 172.5L295.0 173.9L295.2 175.2L295.0 176.7L296.0 178.0L295.7 179.4L296.7 178.4L296.9 177.2L297.0 176.0L297.6 177.2L298.0 178.4L297.3 179.7L297.5 181.0L298.5 182.1L297.9 183.4L298.5 184.6L298.5 186.0L298.9 187.4L299.3 188.7L299.9 190.0L299.9 191.5L300.5 192.8L299.9 194.4L300.2 195.7L300.6 197.1L300.9 198.5L302.0 197.6L301.8 196.2L302.0 195.0L303.1 194.0L304.2 195.1L304.9 197.1L306.4 195.9L307.0 197.0L308.1 197.9L308.0 199.6L308.9 200.4L310.3 200.2L310.7 201.5L311.6 202.6L311.5 204.1L312.0 205.3L312.3 206.5L312.3 207.7L313.3 208.6L313.6 209.7L314.0 208.6L314.7 207.6L315.5 206.7L315.5 205.3L315.8 206.5L316.7 207.4L316.5 208.7L316.9 209.9L317.8 210.7L318.3 212.0L319.7 212.3L320.4 213.5L321.3 214.6L321.8 215.7L322.4 214.5L322.7 213.1L324.0 212.2L325.4 212.1L326.7 211.2L328.1 211.3L329.2 212.3L330.0 213.1L330.0 214.5L331.6 214.7L332.3 215.9L332.9 217.2L333.8 218.3L334.4 219.4L334.5 220.8L335.5 221.5L336.8 221.9L336.5 224.0L337.8 224.4L339.0 225.3L340.5 224.6L341.6 225.2L342.8 225.0L343.9 225.3"/>
<path class="cv" d="M416.9 99.7L417.2 98.5L417.4 97.2L417.7 96.0L418.3 94.8L418.3 93.5L418.7 92.3L418.9 91.1L419.3 89.9L419.5 88.6L419.6 87.4L419.8 86.1L420.1 84.9L420.5 83.7L420.8 82.4L421.1 81.1L421.1 79.8L421.6 78.5L421.7 77.2L422.2 75.9L422.4 74.8L422.8 73.7L423.3 72.6L423.9 71.5L423.9 70.3L424.1 69.0L424.3 67.8L424.5 66.6L424.8 65.4L424.9 64.1L425.2 62.9L425.5 61.6L425.6 60.3L425.7 59.0L425.7 57.7L426.0 56.4L426.1 55.1L426.2 53.8L426.4 52.5L426.5 51.2L426.8 50.0L427.0 48.8L427.2 47.5L427.5 46.3L427.4 45.0L427.7 43.8L428.2 42.6L428.7 41.3L429.0 40.0L429.3 41.4L429.7 42.8L429.9 44.2L430.4 45.6L430.7 46.8L430.6 48.1L430.8 49.3L431.2 50.5L431.2 51.8L431.3 53.0L431.6 54.2L431.8 55.5L431.8 56.8L432.0 58.1L432.1 59.4L432.3 60.7L432.6 62.0L432.6 63.3L432.7 64.6L433.1 65.9L433.2 67.2L433.4 68.5L433.6 69.8L433.6 71.1L434.0 72.4L433.9 73.7L434.2 75.0L434.3 76.4L434.7 77.7L434.8 79.0L435.0 80.4L435.3 81.7L435.4 83.1L435.5 84.4L435.9 85.7L435.9 87.1L436.2 88.4L436.6 89.7L436.7 91.0L437.2 92.3L437.5 93.6L437.7 94.9L438.4 96.1L439.1 97.2L439.8 98.4L441.1 99.1L442.5 99.7"/>
<path class="cv" d="M377.1 130.7L377.9 129.7L378.4 128.5L379.4 127.6L379.5 126.1L380.5 124.9L381.9 124.3L383.0 123.3L384.3 123.0L385.4 122.4L386.6 122.1L388.0 122.6L388.8 120.7L390.1 120.9L391.3 121.1L392.5 121.2L393.7 120.5L394.7 121.2L396.1 121.0L397.0 121.8L398.3 121.7L399.4 122.2L400.5 122.9L401.8 123.1L402.9 122.8L404.0 122.4L404.8 120.7L406.0 120.6L407.4 121.2L407.9 119.8L409.8 119.3L410.0 117.7L411.1 116.6L411.5 115.3L412.0 114.0L411.9 112.4L413.0 111.4L413.3 110.2L412.9 108.6L414.2 107.7L414.1 106.3L415.0 105.3L415.1 104.0L415.5 102.8L415.3 101.5L416.3 100.4L416.3 99.2L416.9 98.0L416.4 96.7L416.9 95.5L417.1 94.3L417.4 93.1L417.2 91.8L417.6 90.6L417.7 89.3L418.6 88.2L419.0 87.0L418.3 85.5L419.1 84.4L419.3 83.2L419.6 81.9L420.0 80.6L420.3 79.3L420.7 78.1L420.7 76.7L420.9 75.4L421.2 74.1L422.3 72.9L423.2 71.4L423.0 73.0L424.0 73.9L424.7 75.0L424.5 76.3L425.0 77.5L425.6 78.7L425.6 80.0L426.2 81.2L426.4 82.4L426.5 83.7L426.6 85.0L426.9 86.3L426.8 87.6L427.5 88.8L427.1 90.2L427.9 91.4L428.4 92.6L428.3 94.0L428.1 95.5L428.5 96.7L429.6 97.8L429.3 99.3L429.9 100.5L430.5 101.7L431.1 102.8L431.0 104.1L431.1 105.3L431.4 106.5L431.2 107.8L432.2 109.0L431.5 110.4L432.0 111.7L432.8 112.9L433.0 114.2L433.5 115.3L433.3 116.7L433.7 117.9L433.8 119.2L434.1 120.4L434.8 121.6L434.6 122.9L435.2 124.1L435.5 125.5L435.5 126.9L436.5 127.9L437.9 128.5L438.6 130.3L439.6 130.7L440.8 130.7L442.0 130.7"/>
<path class="cv" d="M377.1 161.8L377.3 160.6L377.5 159.3L378.2 158.2L378.2 156.9L378.6 155.6L379.7 155.0L380.5 154.0L381.5 153.2L381.6 151.9L382.1 150.7L382.8 149.7L383.4 148.7L383.9 147.4L384.5 146.1L384.9 144.8L385.7 143.7L386.6 142.7L386.7 141.5L387.2 140.4L387.3 139.2L387.7 138.1L388.2 137.1L389.3 136.3L389.3 135.1L389.3 133.8L390.6 133.3L390.6 134.5L390.6 135.7L390.9 136.9L390.7 138.2L391.3 139.3L392.9 138.4L393.7 139.4L393.7 140.8L394.0 142.0L395.0 142.8L396.0 143.5L397.0 144.1L397.4 145.2L397.9 146.3L399.1 145.6L400.5 145.3L401.7 146.0L403.2 146.5L404.3 145.3L405.6 145.0L406.8 144.4L408.2 144.2L409.3 143.1L410.9 143.7L411.5 142.3L412.4 141.2L413.2 140.1L413.5 138.7L415.0 137.8L415.2 136.4L415.4 135.0L415.6 133.7L416.0 132.4L416.1 131.0L417.0 129.9L416.8 128.5L417.3 127.2L417.3 125.9L417.3 124.6L417.8 123.5L417.9 122.2L418.9 121.1L419.2 119.9L418.9 118.6L419.1 117.3L419.1 116.0L419.5 114.8L420.2 113.7L419.9 112.3L420.5 111.2L420.6 109.9L420.5 108.6L421.2 107.5L421.7 106.3L421.7 105.0L422.2 103.7L422.8 105.1L423.7 106.3L423.9 107.8L424.6 109.0L425.4 110.3L425.6 111.7L425.0 113.3L425.4 114.6L426.0 116.0L426.0 117.2L426.4 118.4L426.5 119.7L427.0 120.9L426.5 122.2L426.8 123.4L427.1 124.6L427.9 125.8L427.5 127.3L428.4 128.4L428.2 129.8L428.6 131.1L428.7 132.4L428.5 133.8L428.9 135.2L429.1 136.5L429.3 137.9L429.9 139.2L429.9 140.6L430.2 141.9L430.7 143.1L431.0 144.4L431.4 145.6L431.2 146.9L431.2 148.2L432.2 149.3L432.2 150.6L432.6 151.7L432.6 153.0L433.4 154.0L434.0 155.1L433.5 156.5L434.2 157.5L435.1 158.5L435.6 159.8L436.8 160.6L438.0 160.8L439.2 161.3L440.3 161.8"/>
<path class="cv" d="M377.1 193.3L377.2 192.0L377.2 190.6L377.6 189.3L377.3 187.9L377.6 186.5L377.8 185.2L378.4 183.9L378.0 182.5L378.3 181.2L378.2 179.9L378.4 178.6L378.8 177.4L379.3 176.2L378.7 174.9L379.3 173.6L379.5 172.4L379.3 171.1L379.4 169.8L379.2 168.5L379.7 167.3L380.0 166.0L380.2 164.7L379.7 163.4L380.6 162.1L380.5 160.8L380.2 159.5L380.5 158.2L380.7 156.8L381.0 155.6L381.2 154.3L381.5 153.1L382.4 152.1L382.8 150.5L384.3 150.6L385.3 149.7L385.5 148.5L385.2 147.2L385.6 146.1L386.5 145.1L386.8 143.9L386.9 142.6L387.5 141.5L387.5 140.2L388.7 139.1L389.2 137.6L389.3 136.3L390.5 135.9L391.3 137.1L391.1 138.5L391.5 139.8L391.7 141.0L391.4 142.4L392.0 143.8L392.0 142.5L392.4 141.3L392.8 140.2L393.7 141.5L393.7 142.9L393.5 144.4L394.0 145.7L394.1 147.2L395.2 148.0L395.8 149.0L395.2 150.5L396.0 151.5L397.2 152.5L396.6 154.1L397.7 155.2L397.8 156.8L399.5 157.5L400.5 158.8L401.5 160.0L401.9 161.3L402.7 162.5L402.8 164.1L403.5 163.0L403.9 161.8L404.3 160.5L404.4 161.9L405.9 162.0L406.6 162.6L408.0 162.6L409.3 163.6L409.1 165.2L410.5 165.8L411.1 166.9L411.5 167.9L412.7 167.2L413.4 166.3L413.4 164.9L414.2 163.9L414.6 162.5L416.1 162.0L417.1 160.8L418.7 160.3L420.2 159.6L420.7 158.0L420.9 156.6L421.5 155.4L422.2 154.1L422.3 153.2L424.3 153.7L424.7 155.1L425.6 156.4L425.5 158.0L425.5 159.2L426.0 160.4L425.9 161.6L426.7 162.7L426.9 163.8L427.2 165.0L427.8 166.2L428.1 167.4L428.6 168.6L428.5 170.0L428.5 171.3L429.1 172.5L429.5 173.7L429.6 175.0L429.8 176.2L429.6 177.6L430.7 178.6L430.8 179.9L430.8 181.2L431.5 182.3L431.7 183.5L431.6 184.9L432.6 185.9L432.8 187.1L432.6 188.8L433.5 190.1L434.4 191.5L436.0 191.2L436.4 192.7L437.7 192.7L438.9 192.8L440.0 193.3L441.1 193.3"/>
<path class="cv" d="M377.1 225.3L377.4 224.0L377.2 222.7L377.4 221.4L378.0 220.1L378.1 218.8L377.9 217.5L378.1 216.2L377.8 214.9L378.3 213.6L378.4 212.3L378.9 211.0L378.7 209.7L378.5 208.4L378.9 207.1L378.6 205.8L378.9 204.5L379.5 203.2L379.3 201.9L379.5 200.6L379.6 199.3L379.6 198.0L379.7 196.7L380.7 196.0L381.2 195.0L381.2 193.7L381.8 192.5L381.8 191.3L382.0 190.0L382.4 188.8L382.9 187.6L382.7 186.3L383.0 185.1L383.2 183.9L383.6 182.7L383.7 181.4L383.6 180.1L383.6 178.9L384.0 177.7L384.2 176.4L384.9 175.3L384.6 173.9L385.4 172.8L385.4 171.5L385.7 170.3L385.5 168.9L386.0 167.4L387.0 166.5L388.6 167.3L389.0 168.9L389.2 170.4L390.8 170.8L391.0 172.1L391.6 173.3L391.7 174.6L391.6 176.0L391.7 177.3L392.6 178.3L392.5 179.6L392.4 180.9L392.9 182.1L393.9 183.0L394.1 184.3L394.6 185.6L395.0 184.5L395.9 183.7L396.2 185.0L396.1 186.4L397.0 187.5L396.9 188.9L397.0 190.2L397.3 191.3L397.9 192.3L398.8 193.3L399.1 194.6L399.6 195.8L400.0 197.1L399.9 198.5L400.9 199.8L400.5 201.5L401.3 202.9L401.8 201.5L403.1 201.9L404.3 203.0L404.9 204.3L406.1 204.4L407.0 205.3L407.7 206.2L408.0 207.4L409.0 208.4L410.2 209.1L411.5 209.2L412.9 209.7L414.5 209.7L414.6 208.5L415.5 207.4L415.6 206.2L416.1 205.0L416.2 203.6L416.5 205.0L417.8 205.4L418.4 204.3L419.5 203.7L420.3 202.4L421.2 201.1L422.5 201.5L423.2 200.1L423.7 201.5L424.5 202.8L424.5 204.0L424.8 205.2L425.3 206.4L425.2 207.6L425.3 208.9L426.2 209.9L426.5 211.2L427.4 212.3L428.2 213.6L429.0 214.9L429.0 216.2L429.6 217.4L430.4 218.4L430.9 219.6L431.3 220.8L432.3 221.7L433.4 222.5L434.3 223.4L435.1 225.0L436.8 224.5L437.9 225.3L439.1 225.2L440.3 225.3"/>
<path class="ln" style="stroke-width:1" d="M44.1 226v5M51.9 226v3M56.4 226v3M59.7 226v3M62.2 226v3M64.2 226v3M66.0 226v3M67.5 226v3M68.8 226v3M70.0 226v5M77.8 226v3M82.3 226v3M85.6 226v3M88.1 226v3M90.1 226v3M91.8 226v3M93.3 226v3M94.7 226v3M95.8 226v5M103.6 226v3M108.2 226v3M111.4 226v3M113.9 226v3M116.0 226v3M117.7 226v3M119.2 226v3M120.5 226v3M121.7 226v5M129.5 226v3M134.1 226v3M137.3 226v3M139.8 226v3M141.9 226v3M143.6 226v3M145.1 226v3M146.4 226v3M147.6 226v5M155.2 226v3M159.7 226v3M162.9 226v3M165.3 226v3M167.3 226v3M169.0 226v3M170.5 226v3M171.8 226v3M173.0 226v5M180.6 226v3M185.1 226v3M188.3 226v3M190.7 226v3M192.7 226v3M194.4 226v3M195.9 226v3M197.2 226v3M198.3 226v5M206.0 226v3M210.5 226v3M213.6 226v3M216.1 226v3M218.1 226v3M219.8 226v3M221.3 226v3M222.6 226v3M223.7 226v5M231.4 226v3M235.8 226v3M239.0 226v3M241.5 226v3M243.5 226v3M245.2 226v3M246.6 226v3M247.9 226v3M249.1 226v5M256.5 226v3M260.8 226v3M263.8 226v3M266.2 226v3M268.1 226v3M269.8 226v3M271.2 226v3M272.4 226v3M273.6 226v5M280.9 226v3M285.2 226v3M288.3 226v3M290.6 226v3M292.6 226v3M294.2 226v3M295.6 226v3M296.9 226v3M298.0 226v5M305.4 226v3M309.7 226v3M312.7 226v3M315.1 226v3M317.0 226v3M318.7 226v3M320.1 226v3M321.3 226v3M322.4 226v5M329.8 226v3M334.1 226v3M337.2 226v3M339.5 226v3M341.5 226v3M343.1 226v3M344.5 226v3M345.8 226v3M346.9 226v5M354.7 226v3M359.2 226v3M362.5 226v3M365.0 226v3M367.0 226v3M368.8 226v3M370.3 226v3M371.6 226v3M372.8 226v5M380.6 226v3M385.1 226v3M388.4 226v3M390.9 226v3M392.9 226v3M394.6 226v3M396.1 226v3M397.5 226v3M398.6 226v5M406.4 226v3M411.0 226v3M414.2 226v3M416.7 226v3M418.8 226v3M420.5 226v3M422.0 226v3M423.3 226v3M424.5 226v5M432.3 226v3M436.9 226v3M440.1 226v3M442.6 226v3M444.7 226v3M446.4 226v3M447.9 226v3M449.2 226v3M450.4 226v5"/>
<!--/CURVES-->
<!-- axis -->
<path class="ln" style="stroke-width:1.6" d="M41 236.3H446"/>
<path d="M445 232L454 236.4L445 240.8Z" fill="#000"/>
<text x="247.3" y="251.8" font-size="13.8" text-anchor="middle">CFSE</text>
<text x="487.6" y="82.7" font-size="11.9" text-anchor="middle">Treg:PBMC</text>
<path class="ln" style="stroke-width:1.1" d="M456 84.4H519.5"/>
<text class="r" x="487.3" y="102.4">1:0</text>
<text class="r" x="487.3" y="133.2">1:2</text>
<text class="r" x="487.3" y="166.8">1:4</text>
<text class="r" x="487.3" y="198">1:8</text>
<text class="r" x="487.5" y="229.3">1:16</text>
</g>

<!-- ===== Panel B ===== -->
<g id="panelB">
<text class="sans" x="1.3" y="296.5" font-size="24">B</text>
<rect class="ln" style="stroke-width:1.2" x="126.5" y="297" width="287.1" height="219.8"/>
<rect x="135" y="448" width="55.8" height="69"/>
<rect x="206.7" y="352.8" width="55.3" height="164"/>
<rect x="278.7" y="384.3" width="54.8" height="132.5"/>
<rect x="350.2" y="398.5" width="54.8" height="118.3"/>
<path class="ln" style="stroke-width:0.8;stroke:#222" d="M234 313V354M306 359.5V385M377.6 375.4V399"/>
<text transform="translate(233.7,321.6) scale(1,1.3)" font-size="23" text-anchor="middle">*</text>
<text transform="translate(307.4,355.9) scale(1,1.3)" font-size="23" text-anchor="middle">*</text>
<text transform="translate(377.3,369) scale(1,1.3)" font-size="23" text-anchor="middle">*</text>
<text x="114.5" y="314.3" font-size="13.5" text-anchor="middle">3</text>
<text x="114.5" y="383" font-size="13.5" text-anchor="middle">2</text>
<text x="114.5" y="453" font-size="13.5" text-anchor="middle">1</text>
<text x="114.5" y="520" font-size="13.5" text-anchor="middle">0</text>
<text transform="translate(96.5,408) rotate(-90)" font-size="17.7" text-anchor="middle">Relative cell number</text>
<g font-size="17.9" text-anchor="middle">
<text x="162.2" y="540.8">CD3/28</text>
<text x="162" y="559.1">beads</text>
<text x="232.9" y="540.8">KT32</text>
<text x="305.3" y="540.8">KT32/</text>
<text x="304.6" y="559.1">4.1BBL</text>
<text x="375.6" y="540.8">KT32/</text>
<text x="375.9" y="559.1">OX40L</text>
</g>
</g>

<!-- ===== Panel C ===== -->
<g id="panelC">
<text class="sans" x="1" y="607" font-size="24">C</text>
<!-- bars -->
<rect class="ln" style="stroke-width:1.1;fill:#fff" x="108" y="685" width="53.9" height="129"/>
<rect x="161.9" y="718.6" width="53.3" height="95.5"/>
<rect class="ln" style="stroke-width:1.1;fill:#fff" x="230.9" y="685" width="53" height="129"/>
<rect x="283.8" y="658.5" width="53.3" height="155.5"/>
<rect class="ln" style="stroke-width:1.1;fill:#fff" x="352.9" y="686.2" width="53.6" height="128"/>
<rect x="406.5" y="735.6" width="53.9" height="78.5"/>
<path class="ln" style="stroke-width:1.2" d="M187.6 710.6V719M183.8 710.6H191.5M310.2 626.2V659M306.7 626.2H313.7M433.7 721V736M430.2 721H437"/>
<path class="ln" style="stroke-width:1.8" d="M136.9 679V662.4H185.4V679M387.9 679.6V663.4H435.6V679.6"/>
<text transform="translate(161.1,663.6) scale(1,1.15)" font-size="18.4" text-anchor="middle">*</text>
<text transform="translate(411.4,664.5) scale(1,1.15)" font-size="18.4" text-anchor="middle">*</text>
<!-- frame -->
<path class="ln" style="stroke-width:1.7" d="M100 607.8H473.3V813.5"/>
<path class="ln" style="stroke-width:1.8" d="M100 607V813.5H474.2"/>
<!-- legend -->
<rect class="ln" style="stroke-width:1.3;fill:#fff" x="354.2" y="615.7" width="7.3" height="7.9"/>
<rect x="353.5" y="636.3" width="8" height="7"/>
<text x="363.8" y="624.3" font-size="17.5">CD3/28</text>
<text x="364.5" y="643.8" font-size="17">KT32/4.1BBL</text>
<!-- ticks -->
<g font-size="12" text-anchor="end">
<text x="93" y="613.6">1.6</text><text x="93" y="639.5">1.4</text><text x="93" y="664.9">1.2</text><text x="92" y="690.3">1</text>
<text x="93" y="716.6">0.8</text><text x="93" y="742">0.6</text><text x="93" y="767.9">0.4</text><text x="93" y="793.8">0.2</text><text x="92.7" y="819.2">0</text>
</g>
<path class="ln" style="stroke-width:1.3" d="M97 608H100M97 634.3H100M97 660H100M97 685.9H100M97 711.9H100M97 736.8H100M97 762.6H100M97 788.6H100M97 813.6H100"/>
<text transform="translate(63.2,700.7) rotate(-90)" font-size="16" text-anchor="middle">Relative mRNA expression</text>
<text x="158.8" y="839.5" font-size="23" text-anchor="middle">Bcl-2</text>
<text x="253" y="839.5" font-size="23">Bcl-x<tspan font-size="14.5" dy="6.2" dx="0.5">L</tspan></text>
<text x="404.2" y="839.5" font-size="23" text-anchor="middle">Bim</text>
</g>
</svg>
</body></html>
